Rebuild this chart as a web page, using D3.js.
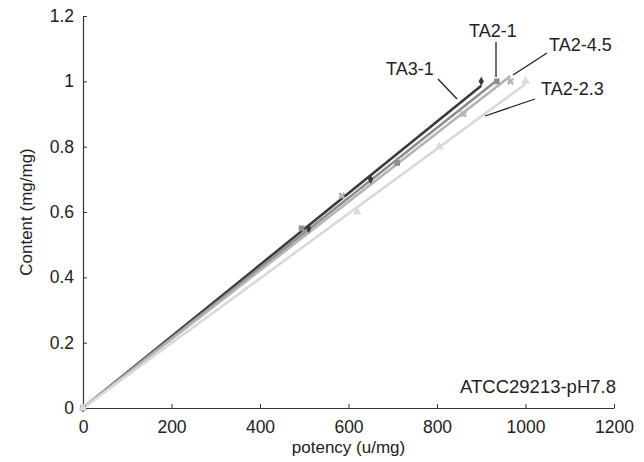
<!DOCTYPE html>
<html>
<head>
<meta charset="utf-8">
<script src="https://cdn.jsdelivr.net/npm/d3@7"></script>
<style>
  body { margin: 0; background: #fff; }
  text { font-family: "Liberation Sans", Arial, sans-serif; fill: #222; }
</style>
</head>
<body>
<div class="chart"></div>
<script>
// series names and data points
var seriesNames = ["TA3-1", "TA2-1", "TA2-4.5", "TA2-2.3"];
var ta31 = [[0, 0], [510, 0.55], [650, 0.7], [900, 1.0]];
var ta21 = [[0, 0], [494, 0.55], [710, 0.75], [935, 1.0]];
var ta245 = [[0, 0], [585, 0.65], [860, 0.9], [966, 1.0]];
var ta223 = [[0, 0], [620, 0.6], [805, 0.8], [1000, 1.0]];
var xTicks = [0, 200, 400, 600, 800, 1000, 1200];
var yTicks = [0, 0.2, 0.4, 0.6, 0.8, 1, 1.2];

var svgWidth = 644, svgHeight = 462;
var margin = { top: 16, right: 30, bottom: 54, left: 83 };
var chartWidth = svgWidth - margin.left - margin.right;
var chartHeight = svgHeight - margin.top - margin.bottom;

var svg = d3.select(".chart").append("svg")
  .attr("width", svgWidth)
  .attr("height", svgHeight);

var chartGroup = svg.append("g")
  .attr("transform", `translate(${margin.left}, ${margin.top})`);

var x = d3.scaleLinear().domain([0, 1200]).range([0, chartWidth]);
var y = d3.scaleLinear().domain([0, 1.2]).range([chartHeight, 0]);

// axes, ticks point inward
var bottomAxis = d3.axisBottom(x).tickValues(xTicks).tickFormat(d => String(d))
  .tickSizeInner(-4).tickSizeOuter(0).tickPadding(13);
var leftAxis = d3.axisLeft(y).tickValues(yTicks).tickFormat(d => String(d))
  .tickSizeInner(-4).tickSizeOuter(0).tickPadding(9);

var xAxisG = chartGroup.append("g")
  .attr("transform", `translate(0, ${chartHeight})`)
  .call(bottomAxis);
var yAxisG = chartGroup.append("g").call(leftAxis);

[xAxisG, yAxisG].forEach(function (g) {
  g.select(".domain").attr("stroke", "#333").attr("stroke-width", 1.2);
  g.selectAll(".tick line").attr("stroke", "#333");
  g.selectAll(".tick text").attr("font-size", "17.5px").attr("fill", "#222")
    .style("font-family", "'Liberation Sans', Arial, sans-serif");
});

var series = [
  { name: seriesNames[0], data: ta31, color: "#3a3a3a", shape: d3.symbolDiamond },
  { name: seriesNames[1], data: ta21, color: "#8e8e8e", shape: d3.symbolSquare },
  { name: seriesNames[2], data: ta245, color: "#b4b4b4", shape: d3.symbolCross },
  { name: seriesNames[3], data: ta223, color: "#d9d9d9", shape: d3.symbolTriangle }
];

// linear trend through origin for each series
series.forEach(function (s) {
  var sxy = d3.sum(s.data, d => d[0] * d[1]);
  var sxx = d3.sum(s.data, d => d[0] * d[0]);
  var k = sxy / sxx;
  var xmax = d3.max(s.data, d => d[0]);
  s.trend = [[0, 0], [xmax, k * xmax]];
});

var line = d3.line().x(d => x(d[0])).y(d => y(d[1]));

series.forEach(function (s) {
  chartGroup.append("path")
    .datum(s.trend)
    .attr("d", line)
    .attr("fill", "none")
    .attr("stroke", s.color)
    .attr("stroke-width", 2.6);
});

series.forEach(function (s) {
  chartGroup.selectAll(null)
    .data(s.data)
    .enter()
    .append("path")
    .attr("transform", d => `translate(${x(d[0])}, ${y(d[1])})` + (s.shape === d3.symbolCross ? " rotate(45)" : ""))
    .attr("d", d3.symbol().type(s.shape).size(s.shape === d3.symbolDiamond ? 24 : 32))
    .attr("fill", s.color);
});

// series labels with leader lines
var labels = [
  { text: seriesNames[0], tx: 386, ty: 75, l: [438, 79, 457, 99] },
  { text: seriesNames[1], tx: 469, ty: 37, l: [496, 42, 496, 77] },
  { text: seriesNames[2], tx: 549, ty: 51, l: [547, 53, 513, 75] },
  { text: seriesNames[3], tx: 541, ty: 95, l: [535, 99, 485, 116] }
];
labels.forEach(function (lb) {
  svg.append("text").attr("x", lb.tx).attr("y", lb.ty)
    .attr("font-size", "18px").text(lb.text);
  svg.append("line")
    .attr("x1", lb.l[0]).attr("y1", lb.l[1]).attr("x2", lb.l[2]).attr("y2", lb.l[3])
    .attr("stroke", "#222").attr("stroke-width", 1.3);
});

svg.append("text")
  .attr("x", 616).attr("y", 393)
  .attr("text-anchor", "end")
  .attr("font-size", "18.5px")
  .text("ATCC29213-pH7.8");

// axis titles
svg.append("text")
  .attr("x", margin.left + chartWidth / 2).attr("y", 453)
  .attr("text-anchor", "middle")
  .attr("font-size", "17px")
  .text("potency (u/mg)");

svg.append("text")
  .attr("transform", `translate(32, ${margin.top + chartHeight / 2}) rotate(-90)`)
  .attr("text-anchor", "middle")
  .attr("font-size", "17px")
  .text("Content (mg/mg)");
</script>
</body>
</html>
